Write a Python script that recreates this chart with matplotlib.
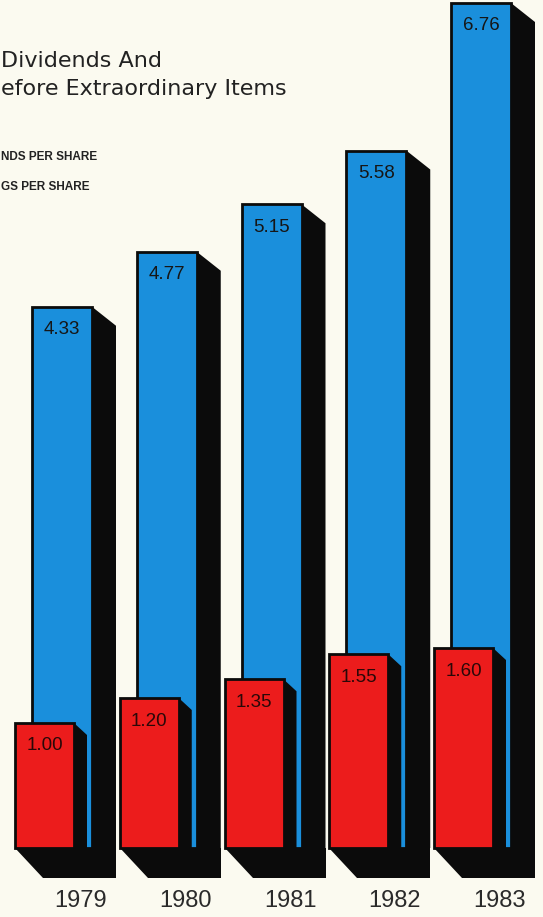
import numpy as np
import matplotlib.pyplot as plt

years = ['1979', '1980', '1981', '1982', '1983']
earnings = [4.33, 4.77, 5.15, 5.58, 6.76]
dividends = [1.00, 1.20, 1.35, 1.55, 1.60]

title_lines = ['Dividends And', 'efore Extraordinary Items']
legend_lines = ['NDS PER SHARE', 'GS PER SHARE']

bg = '#fbfaf0'
blue = '#1a8fdc'
red = '#ec1c1c'
black = '#0b0b0b'

W, H = 543, 917
px_x = 104.75   # pixels per group
px_y = 125.0    # pixels per unit of value
x0_px = 80.5    # pixel position of first group centre
base_px = 848   # pixel position of zero

fig = plt.figure(figsize=(W / 100, H / 100), dpi=100)
fig.patch.set_facecolor(bg)
ax = fig.add_axes([0, 0, 1, 1])
ax.set_facecolor(bg)
ax.set_xlim(-x0_px / px_x, (W - x0_px) / px_x)
ax.set_ylim((base_px - H) / px_y, base_px / px_y)
ax.axis('off')


def dx(p):
    return p / px_x


def dy(p):
    return p / px_y


x = np.arange(len(years))

# geometry of the blocks (in pixels, turned into data units)
blue_left, blue_w = dx(-48.5), dx(60)
red_left, red_w = dx(-65.5), dx(59)
blue_depth_x, blue_depth_y = dx(24), dy(19)
red_depth_x, red_depth_y = dx(13), dy(12)
base_h = dy(30)
base_slant = dx(28)

for i in range(len(years)):
    xi = x[i]
    e = earnings[i]
    d = dividends[i]
    # black base under the block
    bx0 = xi + red_left
    bx1 = xi + blue_left + blue_w + blue_depth_x
    ax.fill([bx0, bx1, bx1, bx0 + base_slant], [0, 0, -base_h, -base_h],
            color=black, lw=0, zorder=1)
    # blue block side
    sx = xi + blue_left + blue_w
    ax.fill([sx, sx + blue_depth_x, sx + blue_depth_x, sx],
            [e, e - blue_depth_y, 0, 0], color=black, lw=0, zorder=1)
    # red block side
    rx = xi + red_left + red_w
    ax.fill([rx, rx + red_depth_x, rx + red_depth_x, rx],
            [d, d - red_depth_y, 0, 0], color=black, lw=0, zorder=3)

ax.bar(x + blue_left, earnings, blue_w, align='edge', color=blue,
       edgecolor=black, linewidth=2, zorder=2)
ax.bar(x + red_left, dividends, red_w, align='edge', color=red,
       edgecolor=black, linewidth=2, zorder=4)

for i in range(len(years)):
    ax.text(x[i] + blue_left + blue_w / 2, earnings[i] - dy(23),
            '%.2f' % earnings[i], ha='center', va='center',
            family='Liberation Sans', fontsize=13.5, color='#161616', zorder=5)
    ax.text(x[i] + red_left + red_w / 2, dividends[i] - dy(23),
            '%.2f' % dividends[i], ha='center', va='center',
            family='Liberation Sans', fontsize=13.5, color='#2a0808', zorder=5)
    ax.text(x[i], dy(-53), years[i], ha='center', va='center',
            family='Liberation Sans', fontsize=17, color='#2a2a2a')

# title and legend (cut off at the left edge in the original)
fig.text(1 / W, 1 - 67 / H, title_lines[0], ha='left', va='baseline',
         family='DejaVu Sans', fontsize=16, color='#222222')
fig.text(1 / W, 1 - 95 / H, title_lines[1], ha='left', va='baseline',
         family='DejaVu Sans', fontsize=16, color='#222222')
fig.text(1 / W, 1 - 157 / H, legend_lines[0], ha='left', va='center',
         family='Liberation Sans', fontweight='bold', fontsize=8.5,
         color='#222222')
fig.text(1 / W, 1 - 187 / H, legend_lines[1], ha='left', va='center',
         family='Liberation Sans', fontweight='bold', fontsize=8.5,
         color='#222222')

plt.savefig('out.png', dpi=100, facecolor=bg)
